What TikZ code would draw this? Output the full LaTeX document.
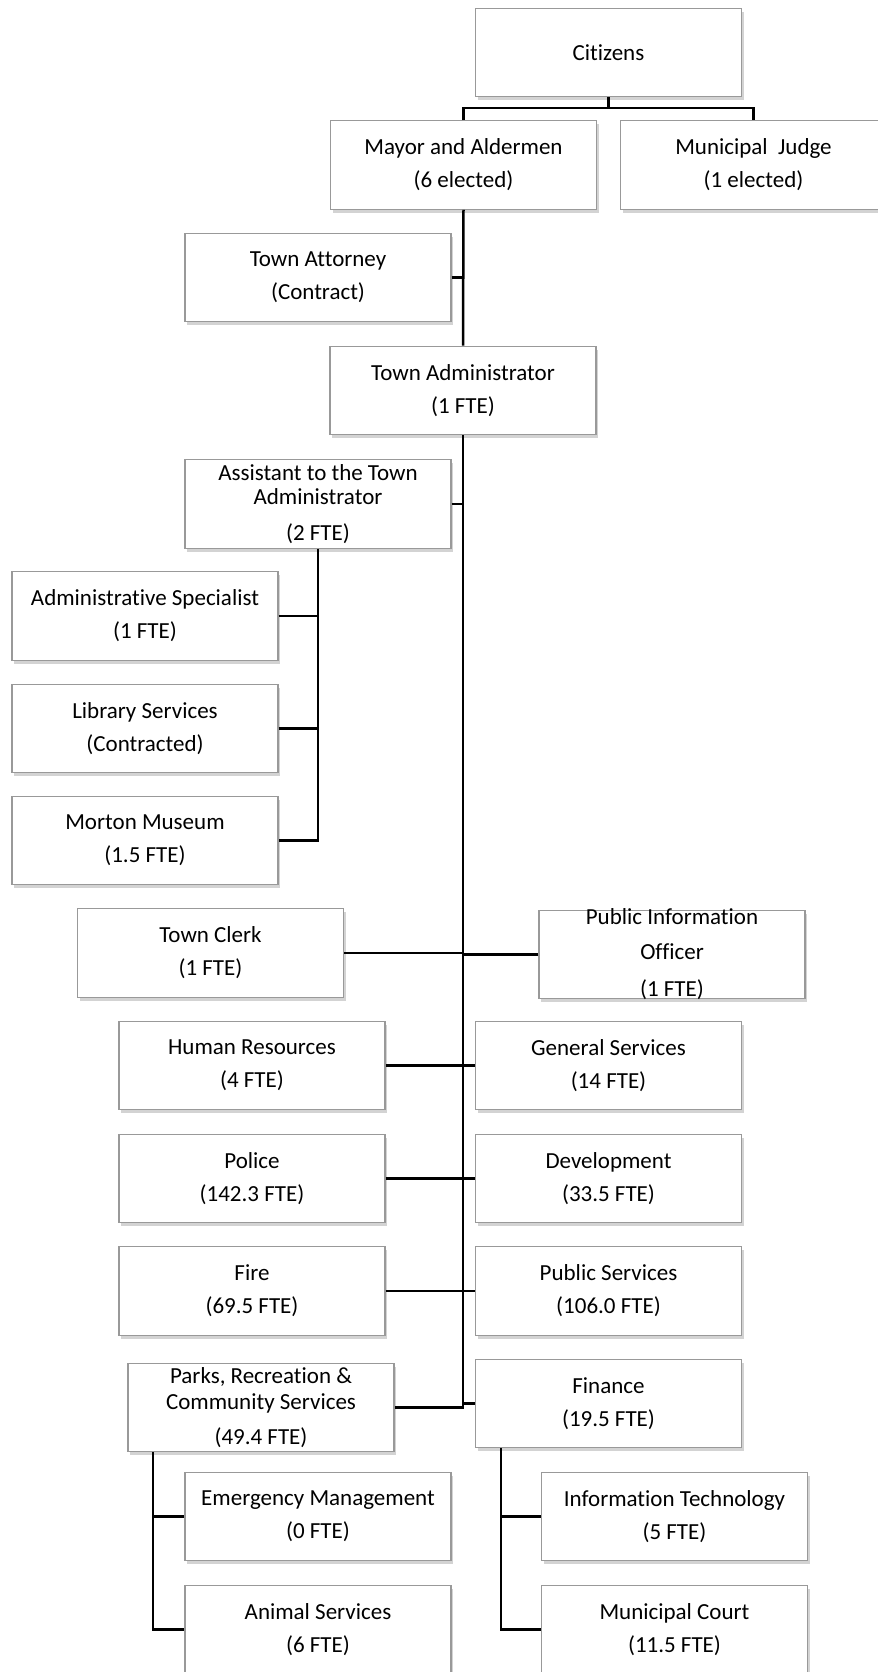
\documentclass[tikz,border=0pt]{standalone}
\usepackage{fontspec}
\setmainfont{Carlito}[Ligatures={NoCommon,NoContextual}]
\usetikzlibrary{shadows}
\begin{document}
\begin{tikzpicture}[x=.5pt, y=-.5pt, font=\fontsize{11.5}{16.5}\selectfont,
	unit/.style={draw=black!40, line width=.6pt, fill=white, minimum width=133pt, minimum height=44.25pt, inner sep=0pt, align=center,
		drop shadow={shadow xshift=1.2pt, shadow yshift=-1.8pt, opacity=.35}},
	link/.style={line width=1.25pt}]
	\useasboundingbox (0,0) rectangle (878,1672);
	%top
	\node[unit] (cit) at (608.5,52.5) {Citizens};
	\node[unit] (mayor) at (463.5,165) {Mayor and Aldermen\\(6 elected)};
	\node[unit] (judge) at (753.5,165) {Municipal~ Judge\\(1 elected)};
	\node[unit] (atty) at (318,277.5) {Town Attorney\\(Contract)};
	\node[unit] (admin) at (463,390.5) {Town Administrator\\(1 FTE)};
	%assistant and staff
	\node[unit] (asst) at (318,504) {Assistant to the Town\\[-4.5pt]Administrator\\[1.5pt](2 FTE)};
	\node[unit] (spec) at (145,616) {Administrative Specialist\\(1 FTE)};
	\node[unit] (lib) at (145,728.5) {Library Services\\(Contracted)};
	\node[unit] (mus) at (145,840.5) {Morton Museum\\(1.5 FTE)};
	%departments
	\node[unit] (clerk) at (210.5,953) {Town Clerk\\(1 FTE)};
	\node[unit] (pio) at (672,954.5) {};
	\node[align=center, inner sep=0pt] (pio text) at (672,954) {Public Information\\[1pt]Officer\\[2pt](1 FTE)};
	\node[unit] (hr) at (252,1065.5) {Human Resources\\(4 FTE)};
	\node[unit] (gen) at (608.5,1065.5) {General Services\\(14 FTE)};
	\node[unit] (police) at (252,1178.5) {Police\\(142.3 FTE)};
	\node[unit] (dev) at (608.5,1178.5) {Development\\(33.5 FTE)};
	\node[unit] (fire) at (252,1291) {Fire\\(69.5 FTE)};
	\node[unit] (pub) at (608.5,1291) {Public Services\\(106.0 FTE)};
	\node[unit] (parks) at (261,1407.5) {Parks, Recreation \&\\[-3.5pt]Community Services\\[1pt](49.4 FTE)};
	\node[unit] (fin) at (608.5,1403.5) {Finance\\(19.5 FTE)};
	%sub units
	\node[unit] (emerg) at (318,1516.5) {Emergency Management\\(0 FTE)};
	\node[unit] (animal) at (318,1629.5) {Animal Services\\(6 FTE)};
	\node[unit] (it) at (674.5,1516.5) {Information Technology\\(5 FTE)};
	\node[unit] (court) at (674.5,1629.5) {Municipal Court\\(11.5 FTE)};
	%lines
	\coordinate (fork) at (608.5,108);
	\coordinate (pk) at (153,1452);
	\coordinate (fk) at (501,1448);
	\draw[link] (cit.south) -- (fork);
	\draw[link] (mayor.north) |- (fork) -| (judge.north);
	\draw[link] (mayor.south) -- (admin.north);
	\draw[link] (atty.east) -- (mayor.south |- atty.east);
	\draw[link] (admin.south) |- (parks.east);
	\draw[link] (fin.west) -- (admin.south |- fin.west);
	\foreach \n in {asst,clerk,hr,police,fire}
	\draw[link] (\n.east) -- (admin.south |- \n.east);
	\foreach \n in {pio,gen,dev,pub}
	\draw[link] (\n.west) -- (admin.south |- \n.west);
	\draw[link] (asst.south) |- (mus.east);
	\foreach \n in {spec,lib}
	\draw[link] (\n.east) -- (asst.south |- \n.east);
	\draw[link] (pk) |- (animal.west);
	\draw[link] (emerg.west) -- (pk |- emerg.west);
	\draw[link] (fk) |- (court.west);
	\draw[link] (it.west) -- (fk |- it.west);
\end{tikzpicture}
\end{document}
